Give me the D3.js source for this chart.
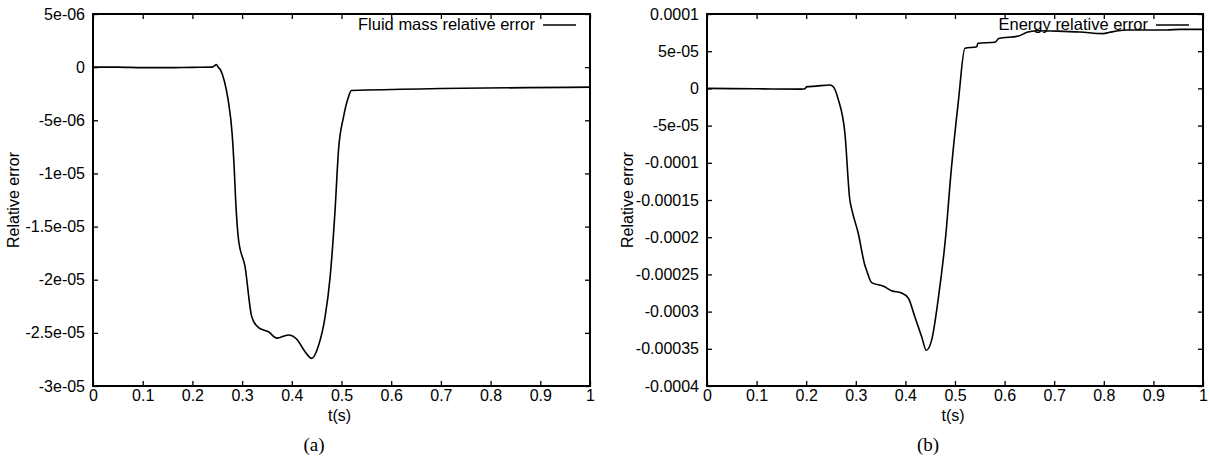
<!DOCTYPE html>
<html><head><meta charset="utf-8">
<script src="https://cdn.jsdelivr.net/npm/d3@7"></script>
<style>
body{margin:0;background:#fff;}
</style></head>
<body><svg id="c" width="1210" height="461"></svg>
<script>
// ---- data ----
const massT = [0,0.05,0.1,0.15,0.2,0.24,0.245,0.248,0.252,0.257,0.264,0.272,0.280,0.284,0.287,0.293,0.306,0.319,0.322,0.333,0.353,0.370,0.393,0.410,0.427,0.440,0.453,0.467,0.477,0.487,0.494,0.504,0.514,0.520,1.0];
const massV = [0,0,-0.05e-6,-0.05e-6,-0.02e-6,0,0.15e-6,0.25e-6,0,-0.3e-6,-1.25e-6,-3.1e-6,-6.3e-6,-9.4e-6,-12.5e-6,-16.3e-6,-18.8e-6,-23.4e-6,-23.8e-6,-24.5e-6,-24.9e-6,-25.5e-6,-25.2e-6,-25.6e-6,-26.8e-6,-27.4e-6,-26.3e-6,-23.5e-6,-19.8e-6,-13.5e-6,-7.8e-6,-4.7e-6,-2.8e-6,-2.2e-6,-1.88e-6];
const energyT = [0,0.1,0.19,0.198,0.2,0.22,0.248,0.255,0.265,0.278,0.288,0.292,0.305,0.318,0.322,0.332,0.356,0.372,0.392,0.406,0.419,0.433,0.442,0.453,0.466,0.483,0.490,0.507,0.520,0.544,0.546,0.581,0.588,0.628,0.645,0.665,0.706,0.752,0.799,0.812,0.846,0.927,0.954,1.0];
const energyV = [0,-0.05e-5,-0.1e-5,-0.05e-5,0.2e-5,0.3e-5,0.46e-5,0.2e-5,-1.56e-5,-6e-5,-15e-5,-16.3e-5,-19.5e-5,-23.7e-5,-24.5e-5,-26.1e-5,-26.6e-5,-27.2e-5,-27.5e-5,-28.2e-5,-30.7e-5,-33.4e-5,-35.2e-5,-33.8e-5,-28.4e-5,-18.6e-5,-12.8e-5,-1.6e-5,5.4e-5,5.6e-5,6.06e-5,6.2e-5,6.7e-5,7.04e-5,7.54e-5,7.75e-5,7.7e-5,7.58e-5,7.36e-5,7.54e-5,7.85e-5,7.85e-5,7.94e-5,7.94e-5];

const xTicks = [0,0.1,0.2,0.3,0.4,0.5,0.6,0.7,0.8,0.9,1];
const xTickLabels = ["0","0.1","0.2","0.3","0.4","0.5","0.6","0.7","0.8","0.9","1"];
const massTicks = [5e-6,0,-5e-6,-1e-5,-1.5e-5,-2e-5,-2.5e-5,-3e-5];
const massTickLabels = ["5e-06","0","-5e-06","-1e-05","-1.5e-05","-2e-05","-2.5e-05","-3e-05"];
const energyTicks = [1e-4,5e-5,0,-5e-5,-1e-4,-1.5e-4,-2e-4,-2.5e-4,-3e-4,-3.5e-4,-4e-4];
const energyTickLabels = ["0.0001","5e-05","0","-5e-05","-0.0001","-0.00015","-0.0002","-0.00025","-0.0003","-0.00035","-0.0004"];

const svg = d3.select("#c");
const SANS = "'Liberation Sans',Arial,Helvetica,sans-serif";
const SERIF = "'Liberation Serif','DejaVu Serif',serif";

function panel(o){
  const g = svg.append("g");
  const x = d3.scaleLinear().domain([0,1]).range([o.x0,o.x1]);
  const y = d3.scaleLinear().domain(o.ydom).range([o.y1,o.y0]);
  const fs = "16px";
  const xf = (d)=> xTickLabels[xTicks.indexOf(d)];
  const yf = (d)=> o.yLabels[o.yTicks.indexOf(d)];
  const bx = g.append("g").attr("transform",`translate(0,${o.y1})`)
    .call(d3.axisBottom(x).tickValues(xTicks).tickFormat(xf).tickSizeInner(-5).tickSizeOuter(0).tickPadding(4));
  const tx = g.append("g").attr("transform",`translate(0,${o.y0})`)
    .call(d3.axisTop(x).tickValues(xTicks).tickFormat("").tickSizeInner(-5).tickSizeOuter(0));
  const ly = g.append("g").attr("transform",`translate(${o.x0},0)`)
    .call(d3.axisLeft(y).tickValues(o.yTicks).tickFormat(yf).tickSizeInner(-5).tickSizeOuter(0).tickPadding(8));
  const ry = g.append("g").attr("transform",`translate(${o.x1},0)`)
    .call(d3.axisRight(y).tickValues(o.yTicks).tickFormat("").tickSizeInner(-5).tickSizeOuter(0));
  [bx,tx,ly,ry].forEach(a=>{
    a.selectAll(".domain").remove();
    a.selectAll(".tick line").attr("stroke","#000").attr("stroke-width",1.3);
    a.selectAll("text").style("font-size",fs).attr("fill","#000").style("font-family",SANS);
  });
  g.append("rect").attr("x",o.x0).attr("y",o.y0).attr("width",o.x1-o.x0).attr("height",o.y1-o.y0)
    .attr("fill","none").attr("stroke","#000").attr("stroke-width",2);
  const data = o.t.map((t,i)=>[t,o.v[i]]);
  g.append("path").datum(data).attr("fill","none").attr("stroke","#000").attr("stroke-width",1.6)
    .attr("stroke-linejoin","round")
    .attr("d",d3.line().x(d=>x(d[0])).y(d=>y(d[1])).curve(d3.curveMonotoneX));
  // legend
  g.append("text").attr("x",o.legX).attr("y",30).attr("text-anchor","end")
    .style("font-size","16.5px").style("font-family",SANS).text(o.legend);
  g.append("line").attr("x1",o.legX+8).attr("x2",o.legX+41).attr("y1",25).attr("y2",25)
    .attr("stroke","#000").attr("stroke-width",1.5);
  // axis titles
  g.append("text").attr("x",(o.x0+o.x1)/2 - 2).attr("y",421).attr("text-anchor","middle")
    .style("font-size",fs).style("font-family",SANS).text("t(s)");
  g.append("text").attr("transform",`translate(${o.ylabX},${(o.y0+o.y1)/2}) rotate(-90)`)
    .attr("text-anchor","middle").style("font-size",fs).style("font-family",SANS).text("Relative error");
  g.append("text").attr("x",o.capX).attr("y",451).attr("text-anchor","middle")
    .style("font-family",SERIF).style("font-size","19px").text(o.caption);
}

panel({x0:93,x1:590,y0:14,y1:386,ydom:[-3e-5,5e-6],yTicks:massTicks,yLabels:massTickLabels,
  t:massT,v:massV,legend:"Fluid mass relative error",legX:535,ylabX:19,caption:"(a)",capX:314});
panel({x0:707,x1:1203,y0:14,y1:386,ydom:[-4e-4,1e-4],yTicks:energyTicks,yLabels:energyTickLabels,
  t:energyT,v:energyV,legend:"Energy relative error",legX:1148,ylabX:633,caption:"(b)",capX:928});
</script></body></html>
